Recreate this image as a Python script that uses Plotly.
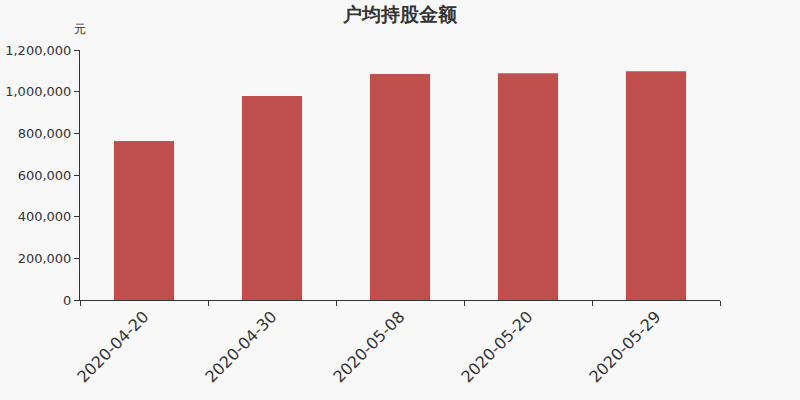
import plotly.graph_objects as go

dates = ["2020-04-20", "2020-04-30", "2020-05-08", "2020-05-20", "2020-05-29"]
amounts = [763000, 979000, 1084500, 1088000, 1098000]
y_ticks = [0, 200000, 400000, 600000, 800000, 1000000, 1200000]
y_labels = ["0", "200,000", "400,000", "600,000", "800,000", "1,000,000", "1,200,000"]

fig = go.Figure()
fig.add_trace(go.Bar(x=dates, y=amounts, marker_color="#c0504e",
                     marker_line_width=0, width=0.47))

fig.update_layout(
    width=800, height=400,
    margin=dict(l=80, r=80, t=50, b=100),
    paper_bgcolor="#f8f8f8", plot_bgcolor="#f8f8f8",
    font=dict(family="DejaVu Sans", color="#333333"),
    title=dict(text="<b>户均持股金额</b>", x=0.5, xanchor="center", y=0.965, yanchor="middle",
               font=dict(size=19, color="#333333")),
    showlegend=False,
    bargap=0.53,
)
fig.update_xaxes(type="category", showline=True, linecolor="#333333", linewidth=1,
                 ticks="outside", ticklen=5, tickcolor="#333333", tickson="boundaries",
                 tickangle=-45, tickfont=dict(size=16), showgrid=False, automargin=False)
fig.update_yaxes(range=[0, 1200000], tickvals=y_ticks, ticktext=y_labels,
                 showline=True, linecolor="#333333", linewidth=1,
                 ticks="outside", ticklen=5, tickcolor="#333333",
                 tickfont=dict(size=13), showgrid=False, zeroline=False, automargin=False)
fig.add_annotation(text="元", xref="paper", yref="paper", x=0, y=1.0, xshift=0, yshift=30,
                   showarrow=False, font=dict(size=12, color="#333333"), xanchor="center")

# remove the default page margin so the chart sits at the window corner
fig.write_html("out.html", config={"displayModeBar": False},
               post_script="document.body.style.margin='0';document.body.style.background='#f8f8f8';")
